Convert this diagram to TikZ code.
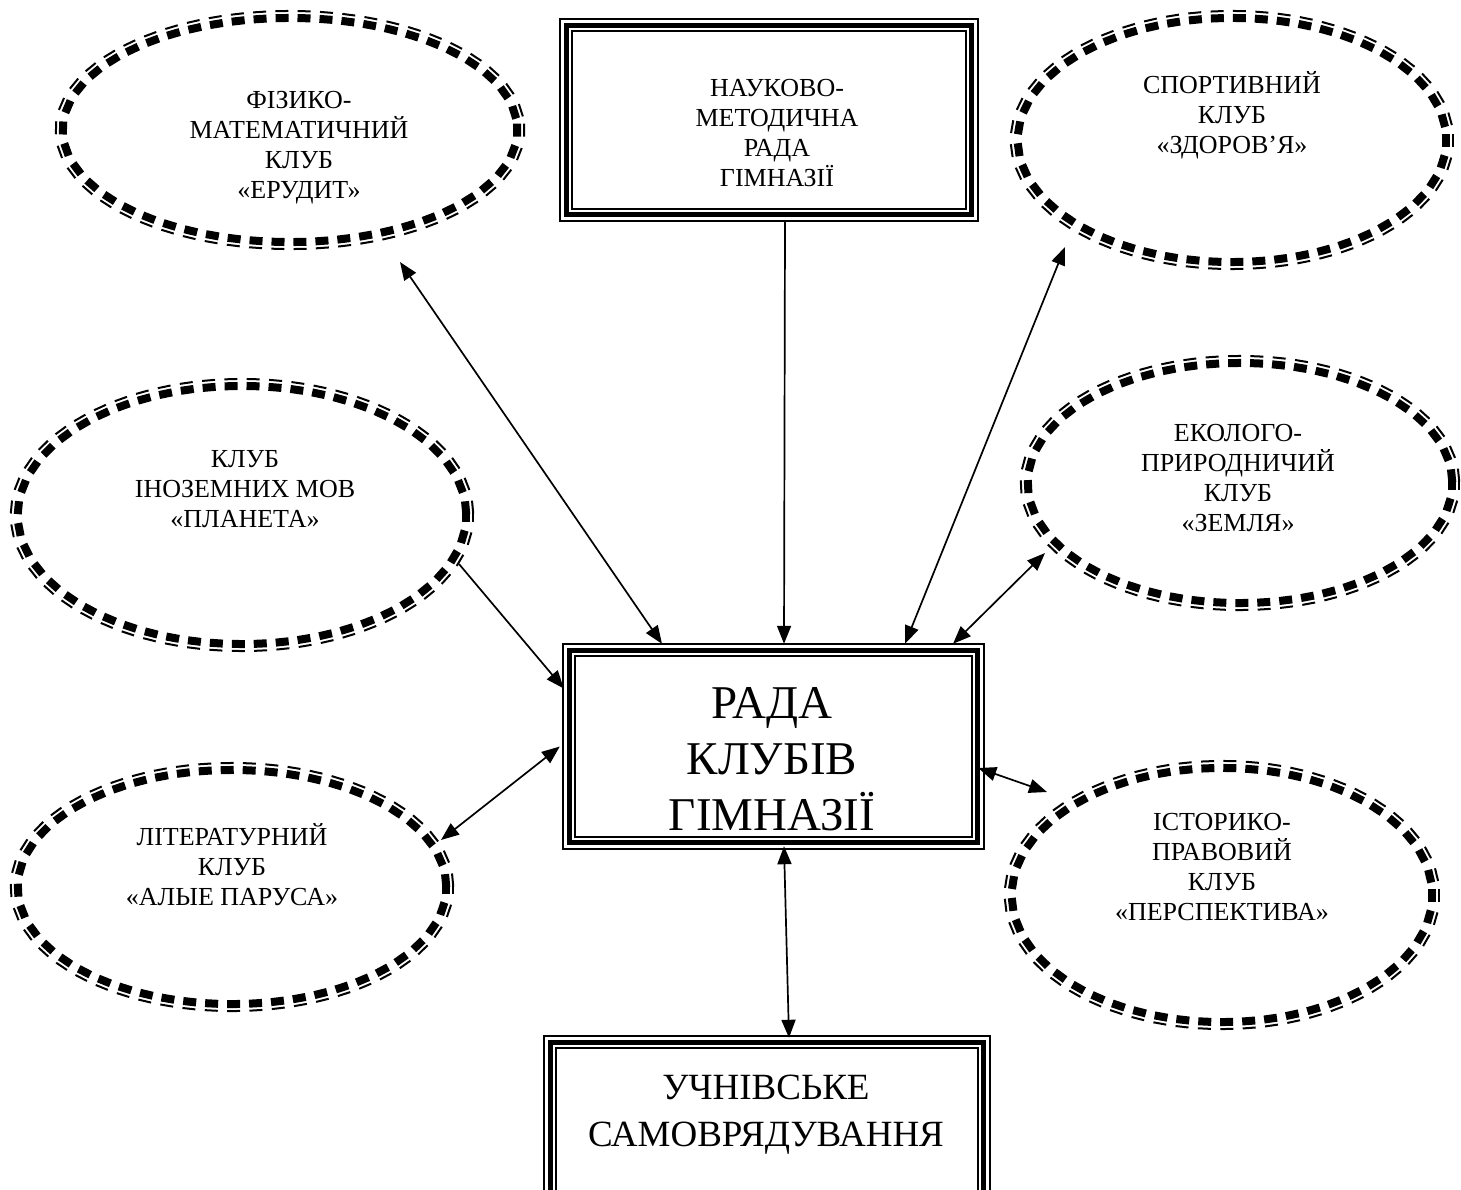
\documentclass[tikz,border=0pt]{standalone}
\usepackage{fontspec}
\setmainfont{Liberation Serif}
\usetikzlibrary{arrows.meta,shapes.geometric,decorations.markings}
\begin{document}
\begin{tikzpicture}[x=1pt,y=-1pt,
  >={Triangle[length=18pt,width=14pt]},
  con/.style={line width=1.7pt},
  dashring/.style={postaction={decorate},decoration={markings,
      mark=between positions 0 and 1 step 22pt with {
        \fill (-6.5pt,-4pt) rectangle (6.5pt,4pt);
        \fill (-6.5pt,6pt) rectangle (6.5pt,8pt);}}},
  ellnode/.style={ellipse,inner sep=0pt},
  boxnode/.style={rectangle,inner sep=0pt},
  stxt/.style={align=center,inner sep=0pt,font=\fontsize{26}{30}\selectfont},
  mtxt/.style={align=center,inner sep=0pt,font=\fontsize{26}{30}\selectfont},
  btxt/.style={align=center,inner sep=0pt,font=\fontsize{47}{56}\selectfont},
  utxt/.style={align=center,inner sep=0pt,font=\fontsize{37}{47}\selectfont}]
\clip (0,0) rectangle (1461,1189);

% boxes
\node[boxnode,minimum width=420pt,minimum height=204pt] (nmr) at (769,120) {};
\node[boxnode,minimum width=423pt,minimum height=207pt] (rada) at (773.5,746.5) {};
\node[boxnode,minimum width=448pt,minimum height=170pt] (uch) at (767,1120) {};
\foreach \n in {nmr,rada,uch}{
  \draw[line width=2pt] ([shift={(1,1)}]\n.north west) rectangle ([shift={(-1,-1)}]\n.south east);
  \draw[line width=5pt] ([shift={(7.5,7.5)}]\n.north west) rectangle ([shift={(-7.5,-7.5)}]\n.south east);
  \draw[line width=2pt] ([shift={(13,13)}]\n.north west) rectangle ([shift={(-13,-13)}]\n.south east);
}
\node[mtxt] (nmrt) at (777,133) {НАУКОВО-\\МЕТОДИЧНА\\РАДА\\ГІМНАЗІЇ};
\node[btxt] (radat) at (772,759) {РАДА\\КЛУБІВ\\ГІМНАЗІЇ};
\node[utxt] (ucht) at (766,1115) {УЧНІВСЬКЕ\\САМОВРЯДУВАННЯ};

% ellipses
\node[ellnode,minimum width=454pt,minimum height=224pt] (er) at (290,130) {};
\node[ellnode,minimum width=428pt,minimum height=244pt] (zd) at (1232,140) {};
\node[ellnode,minimum width=448pt,minimum height=258pt] (pl) at (242,515) {};
\node[ellnode,minimum width=424pt,minimum height=240pt] (zm) at (1240,483) {};
\node[ellnode,minimum width=428pt,minimum height=234pt] (ap) at (232,887) {};
\node[ellnode,minimum width=420pt,minimum height=254pt] (ps) at (1222,895) {};
\path[dashring] (er.center) ellipse [x radius=227, y radius=112];
\path[dashring] (zd.center) ellipse [x radius=214, y radius=122];
\path[dashring] (pl.center) ellipse [x radius=224, y radius=129];
\path[dashring] (zm.center) ellipse [x radius=212, y radius=120];
\path[dashring] (ap.center) ellipse [x radius=214, y radius=117];
\path[dashring] (ps.center) ellipse [x radius=210, y radius=127];

\node[stxt] (ert) at (299,148) {ФІЗИКО-\\МАТЕМАТИЧНИЙ\\КЛУБ\\«ЕРУДИТ»};
\node[stxt] (zdt) at (1232,115) {СПОРТИВНИЙ\\КЛУБ\\«ЗДОРОВ’Я»};
\node[stxt] (plt) at (245,489) {КЛУБ\\ІНОЗЕМНИХ МОВ\\«ПЛАНЕТА»};
\node[stxt] (zmt) at (1238,478) {ЕКОЛОГО-\\ПРИРОДНИЧИЙ\\КЛУБ\\«ЗЕМЛЯ»};
\node[stxt] (apt) at (232,865) {ЛІТЕРАТУРНИЙ\\КЛУБ\\«АЛЫЕ ПАРУСА»};
\node[stxt] (pst) at (1222,867) {ІСТОРИКО-\\ПРАВОВИЙ\\КЛУБ\\«ПЕРСПЕКТИВА»};

% connectors
\draw[con,<->] ([shift={(110,132)}]er.center) -- ([shift={(-111.5,1)}]rada.north);
\draw[con,->] ([shift={(16,0)}]nmr.south) -- ([shift={(10.5,1)}]rada.north);
\draw[con,<->] ([shift={(-167,107)}]zd.center) -- ([shift={(131.5,1)}]rada.north);
\draw[con,<->] ([shift={(-195,70)}]zm.center) -- ([shift={(179.5,1)}]rada.north);
\draw[con,->] ([shift={(217,49)}]pl.center) -- ([shift={(2,-58)}]rada.west);
\draw[con,<->] ([shift={(209,-47)}]ap.center) -- ([shift={(-2,0)}]rada.west);
\draw[con,<->] ([shift={(-175,-103)}]ps.center) -- ([shift={(-7,21.5)}]rada.east);
\draw[con,<->] ([shift={(10.5,-4)}]rada.south) -- ([shift={(22,3)}]uch.north);
\end{tikzpicture}
\end{document}
